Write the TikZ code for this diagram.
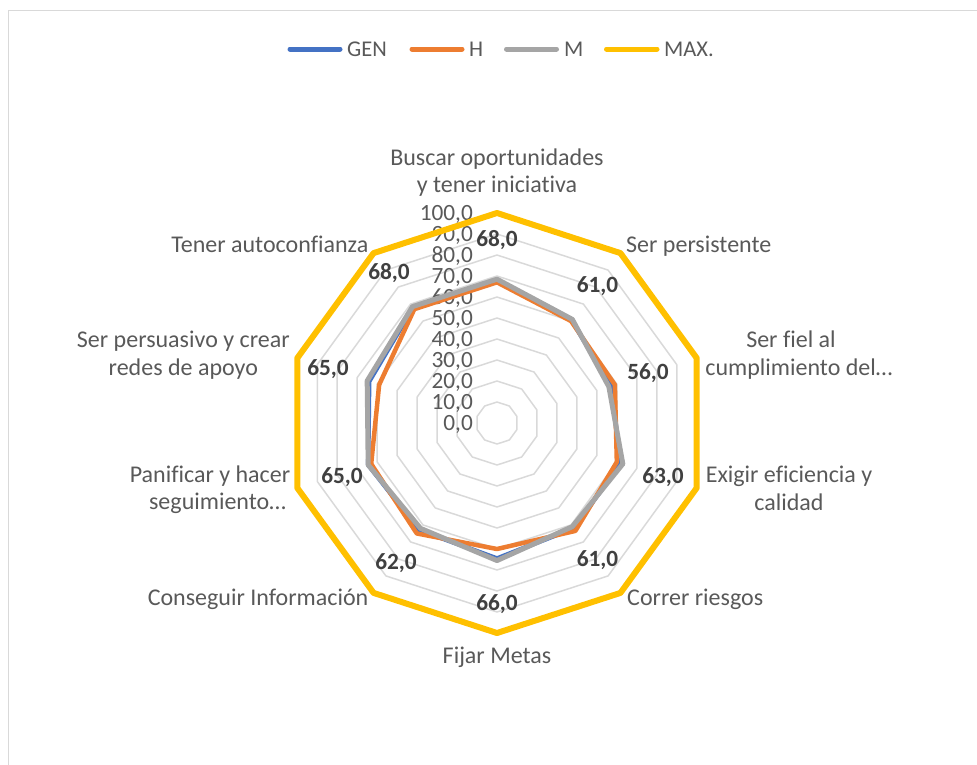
\documentclass[tikz,border=0pt]{standalone}
\usepackage{fontspec}
\setmainfont[Ligatures={NoCommon}]{Carlito}
\definecolor{colgen}{HTML}{4472C4}
\definecolor{colh}{HTML}{ED7D31}
\definecolor{colm}{HTML}{A5A5A5}
\definecolor{colmax}{HTML}{FFC000}
\definecolor{colgrid}{HTML}{D9D9D9}
\definecolor{coltxt}{HTML}{595959}
\definecolor{collab}{HTML}{404040}
\begin{document}
\begin{tikzpicture}[x=1pt,y=-1pt,
  frame/.style={draw=colgrid, line width=1.5pt},
  ring/.style={draw=colgrid, line width=1.5pt, line join=round},
  sgen/.style={draw=colgen, line width=4.5pt, line join=round},
  sh/.style={draw=colh, line width=4.5pt, line join=round},
  sm/.style={draw=colm, line width=5pt, line join=round},
  smax/.style={draw=colmax, line width=6pt, line join=round},
  legline/.style={line width=5pt, line cap=round},
  legtxt/.style={font=\fontsize{22.5}{27}\selectfont, text=coltxt, inner sep=0pt, anchor=base west},
  cat/.style={font=\fontsize{24}{28}\selectfont, text=coltxt, inner sep=0pt, anchor=base},
  tick/.style={font=\fontsize{23.3}{28}\selectfont, text=coltxt, inner sep=0pt, anchor=base east},
  val/.style={font=\fontsize{23.3}{28}\selectfont\bfseries, text=collab, inner sep=0pt, anchor=base}]
\useasboundingbox (0,0) rectangle (977,764);
% frame
\coordinate (fa) at (8.5,766);
\coordinate (fb) at (8.5,10.5);
\coordinate (fc) at (979,10.5);
\draw[frame] (fa) -- (fb) -- (fc);
% rings
\foreach \k in {1,...,10}{
  \foreach \i in {0,...,9}
    \coordinate (r\i) at ({497+21*\k*cos(90-36*\i)},{423-21*\k*sin(90-36*\i)});
  \draw[ring] (r0)--(r1)--(r2)--(r3)--(r4)--(r5)--(r6)--(r7)--(r8)--(r9)--cycle;
}
% tick labels
\foreach \k/\t in {0/{0,0},1/{10,0},2/{20,0},3/{30,0},4/{40,0},5/{50,0},6/{60,0},7/{70,0},8/{80,0},9/{90,0},10/{100,0}}
  \node[tick] (t\k) at (473,{430-21*\k}) {\t};
% series coordinates
\foreach \v [count=\i from 0] in {67.5,60.5,57,62,62,64.5,63,64.5,64,68}
  \coordinate (g\i) at ({497+2.1*\v*cos(90-36*\i)},{423-2.1*\v*sin(90-36*\i)});
\foreach \v [count=\i from 0] in {67,60,59,60,63.5,60,65,63,59,67}
  \coordinate (h\i) at ({497+2.1*\v*cos(90-36*\i)},{423-2.1*\v*sin(90-36*\i)});
\foreach \v [count=\i from 0] in {68.5,61,56,63,61,65.5,62,64.5,65,68.5}
  \coordinate (m\i) at ({497+2.1*\v*cos(90-36*\i)},{423-2.1*\v*sin(90-36*\i)});
\foreach \i in {0,...,9}
  \coordinate (x\i) at ({497+210*cos(90-36*\i)},{423-210*sin(90-36*\i)});
\draw[sgen] (g0)--(g1)--(g2)--(g3)--(g4)--(g5)--(g6)--(g7)--(g8)--(g9)--cycle;
\draw[sh] (h0)--(h1)--(h2)--(h3)--(h4)--(h5)--(h6)--(h7)--(h8)--(h9)--cycle;
\draw[sm] (m0)--(m1)--(m2)--(m3)--(m4)--(m5)--(m6)--(m7)--(m8)--(m9)--cycle;
\draw[smax] (x0)--(x1)--(x2)--(x3)--(x4)--(x5)--(x6)--(x7)--(x8)--(x9)--cycle;
% data labels
\node[val] (v0) at (497,246) {68,0};
\node[val] (v1) at (597.5,292) {61,0};
\node[val] (v2) at (648,379) {56,0};
\node[val] (v3) at (663,483) {63,0};
\node[val] (v4) at (597.5,566) {61,0};
\node[val] (v5) at (497,610) {66,0};
\node[val] (v6) at (396,569) {62,0};
\node[val] (v7) at (342,483) {65,0};
\node[val] (v8) at (328,375) {65,0};
\node[val] (v9) at (389,279) {68,0};
% category labels
\node[cat] (c0a) at (497,165) {Buscar oportunidades};
\node[cat] (c0b) at (497,192.5) {y tener iniciativa};
\node[cat, anchor=base west] (c1) at (626,252) {Ser persistente};
\node[cat] (c2a) at (791,347) {Ser fiel al};
\node[cat] (c2b) at (799,375) {cumplimiento del…};
\node[cat] (c3a) at (789,482) {Exigir eficiencia y};
\node[cat] (c3b) at (789,510) {calidad};
\node[cat, anchor=base west] (c4) at (627,605) {Correr riesgos};
\node[cat] (c5) at (497,663) {Fijar Metas};
\node[cat, anchor=base east] (c6) at (368.5,605) {Conseguir Información};
\node[cat] (c7a) at (210,482) {Panificar y hacer};
\node[cat] (c7b) at (217.5,509) {seguimiento…};
\node[cat] (c8a) at (183.3,347) {Ser persuasivo y crear};
\node[cat] (c8b) at (183.3,375) {redes de apoyo};
\node[cat, anchor=base east] (c9) at (368.5,252) {Tener autoconfianza};
% legend
\coordinate (l1a) at (290,49); \coordinate (l1b) at (340,49);
\coordinate (l2a) at (412,49); \coordinate (l2b) at (462,49);
\coordinate (l3a) at (506.5,49); \coordinate (l3b) at (556.5,49);
\coordinate (l4a) at (606.5,49); \coordinate (l4b) at (657,49);
\draw[legline, colgen] (l1a) -- (l1b);
\draw[legline, colh] (l2a) -- (l2b);
\draw[legline, colm] (l3a) -- (l3b);
\draw[legline, colmax] (l4a) -- (l4b);
\node[legtxt] (lg1) at (347,56.5) {GEN};
\node[legtxt] (lg2) at (469,56.5) {H};
\node[legtxt] (lg3) at (564,56.5) {M};
\node[legtxt] (lg4) at (664,56.5) {MAX.};
\end{tikzpicture}
\end{document}
